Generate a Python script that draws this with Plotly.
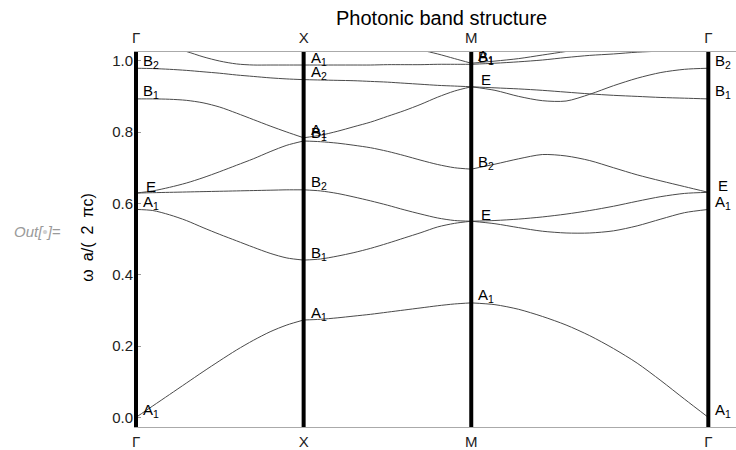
import numpy as np
import plotly.graph_objects as go

# High-symmetry points along the path Γ–X–M–Γ (path length in units of 2π/a)
sym_k = [0.0, 0.5, 1.0, 1.7071]
sym_labels = ["Γ", "X", "M", "Γ"]

# Sampling along each leg: 11 points per leg, shared end points
pts_per_leg = 11

# Band frequencies ωa/(2πc) along Γ→X, X→M, M→Γ (31 samples each)
band1 = [0.000, 0.032, 0.064, 0.096, 0.128, 0.159, 0.189, 0.216, 0.240, 0.259, 0.273,
         0.275, 0.279, 0.284, 0.289, 0.295, 0.301, 0.307, 0.313, 0.318, 0.321,
         0.316, 0.303, 0.283, 0.259, 0.229, 0.193, 0.152, 0.103, 0.051, 0.000]
band2 = [0.583, 0.580, 0.568, 0.552, 0.532, 0.513, 0.495, 0.477, 0.460, 0.447, 0.441,
         0.444, 0.452, 0.462, 0.474, 0.488, 0.503, 0.518, 0.534, 0.544, 0.550,
         0.543, 0.532, 0.522, 0.517, 0.517, 0.523, 0.537, 0.556, 0.574, 0.583]
band3 = [0.629, 0.630, 0.631, 0.632, 0.633, 0.634, 0.635, 0.636, 0.637, 0.638, 0.638,
         0.635, 0.628, 0.618, 0.607, 0.595, 0.582, 0.570, 0.559, 0.552, 0.550,
         0.552, 0.556, 0.562, 0.570, 0.580, 0.592, 0.606, 0.619, 0.628, 0.631]
band4 = [0.629, 0.635, 0.645, 0.657, 0.672, 0.689, 0.707, 0.725, 0.745, 0.763, 0.775,
         0.773, 0.769, 0.763, 0.756, 0.746, 0.734, 0.721, 0.709, 0.700, 0.696,
         0.710, 0.725, 0.737, 0.733, 0.720, 0.700, 0.680, 0.663, 0.647, 0.631]
band5 = [0.893, 0.893, 0.892, 0.889, 0.882, 0.870, 0.853, 0.835, 0.817, 0.800, 0.784,
         0.791, 0.802, 0.815, 0.828, 0.844, 0.860, 0.878, 0.898, 0.915, 0.927,
         0.917, 0.900, 0.888, 0.887, 0.906, 0.930, 0.951, 0.967, 0.976, 0.979]
band6 = [0.979, 0.978, 0.976, 0.973, 0.969, 0.965, 0.960, 0.956, 0.952, 0.949, 0.947,
         0.946, 0.945, 0.944, 0.942, 0.940, 0.937, 0.934, 0.931, 0.929, 0.927,
         0.924, 0.921, 0.917, 0.912, 0.907, 0.903, 0.900, 0.897, 0.895, 0.893]
band7 = [1.050, 1.047, 1.037, 1.026, 1.011, 0.999, 0.991, 0.988, 0.988, 0.988, 0.988,
         0.988, 0.988, 0.988, 0.988, 0.989, 0.989, 0.989, 0.990, 0.990, 0.990,
         0.993, 0.997, 1.002, 1.009, 1.015, 1.019, 1.024, 1.027, 1.030, 1.031]
band8 = [None, None, None, None, None, None, None, None, None, None, 1.069,
         1.068, 1.065, 1.061, 1.055, 1.048, 1.040, 1.030, 1.019, 1.006, 0.993,
         0.999, 1.006, 1.016, 1.026, 1.036, 1.044, 1.051, 1.056, 1.061, 1.062]
bands = [band1, band2, band3, band4, band5, band6, band7, band8]

# Symmetry labels of the modes at the high-symmetry points
label_k = [0.0, 0.0, 0.0, 0.0, 0.0,
           0.5, 0.5, 0.5, 0.5, 0.5, 0.5, 0.5,
           1.0, 1.0, 1.0, 1.0, 1.0, 1.0,
           1.7071, 1.7071, 1.7071, 1.7071, 1.7071]
label_w = [0.000, 0.583, 0.629, 0.893, 0.979,
           0.273, 0.441, 0.638, 0.784, 0.775, 0.947, 0.988,
           0.321, 0.550, 0.696, 0.927, 0.993, 0.990,
           0.000, 0.583, 0.631, 0.893, 0.979]
label_text = ["A<sub>1</sub>", "A<sub>1</sub>", "E", "B<sub>1</sub>", "B<sub>2</sub>",
              "A<sub>1</sub>", "B<sub>1</sub>", "B<sub>2</sub>", "A<sub>1</sub>", "B<sub>1</sub>",
              "A<sub>2</sub>", "A<sub>1</sub>",
              "A<sub>1</sub>", "E", "B<sub>2</sub>", "E", "A<sub>1</sub>", "B<sub>1</sub>",
              "A<sub>1</sub>", "A<sub>1</sub>", "E", "B<sub>1</sub>", "B<sub>2</sub>"]

y_tick_vals = [0.0, 0.2, 0.4, 0.6, 0.8, 1.0]
y_tick_text = ["0.0", "0.2", "0.4", "0.6", "0.8", "1.0"]

FONT = "Liberation Sans"
EN = "\u2002"

# k coordinate of every sample, leg by leg
legs = []
for a, b in zip(sym_k[:-1], sym_k[1:]):
    legs.append(np.linspace(a, b, pts_per_leg))

fig = go.Figure()
for band in bands:
    for i, kk in enumerate(legs):
        seg = band[i * (pts_per_leg - 1): (i + 1) * (pts_per_leg - 1) + 1]
        fig.add_trace(go.Scatter(
            x=kk, y=seg, mode="lines",
            line=dict(color="#4a4a4a", width=1, shape="spline", smoothing=0.8),
            hoverinfo="skip", showlegend=False, connectgaps=False,
        ))

# dummy trace that carries the top axis
fig.add_trace(go.Scatter(x=sym_k, y=[None] * len(sym_k), xaxis="x2",
                         showlegend=False, hoverinfo="skip"))

# thick vertical lines at the high-symmetry points
for k in sym_k:
    fig.add_shape(type="line", xref="x", yref="paper", x0=k, x1=k, y0=0, y1=1,
                  line=dict(color="black", width=4), layer="above")

for k, w, t in zip(label_k, label_w, label_text):
    fig.add_annotation(x=k, y=w, xref="x", yref="y", text=t, showarrow=False,
                       xanchor="center", yanchor="middle", xshift=15, yshift=7,
                       font=dict(family=FONT, size=15, color="black"))

fig.add_annotation(text="Photonic band structure", xref="paper", yref="paper",
                   x=0.51, y=1.09, showarrow=False, xanchor="center", yanchor="middle",
                   font=dict(family=FONT, size=20, color="black"))
fig.add_annotation(text=f"ω{EN}a/({EN}2{EN}πc)", xref="paper", yref="paper",
                   x=-0.0764, y=0.505, showarrow=False, textangle=-90,
                   xanchor="center", yanchor="middle",
                   font=dict(family=FONT, size=16, color="black"))
fig.add_annotation(text="<i>Out[<span style='color:#d0d0d0'>•</span>]=</i>",
                   xref="paper", yref="paper", x=-0.161, y=0.521, showarrow=False,
                   xanchor="center", yanchor="middle",
                   font=dict(family=FONT, size=15, color="#9a9a9a"))

axis_font = dict(family=FONT, size=15, color="#222222")
fig.update_layout(
    width=736, height=450,
    margin=dict(l=134, r=0, t=52, b=20),
    paper_bgcolor="white", plot_bgcolor="white",
    xaxis=dict(range=[-0.00597, 1.7897], tickvals=sym_k, ticktext=sym_labels,
               ticks="outside", ticklen=1, tickcolor="rgba(0,0,0,0)",
               showline=True, linecolor="#aaaaaa", linewidth=1, mirror=True,
               showgrid=False, zeroline=False, tickfont=axis_font),
    xaxis2=dict(range=[-0.00597, 1.7897], overlaying="x", side="top", anchor="y",
                tickvals=sym_k, ticktext=sym_labels,
                ticks="outside", ticklen=2, tickcolor="rgba(0,0,0,0)",
                showline=False, showgrid=False, zeroline=False, tickfont=axis_font),
    yaxis=dict(range=[-0.027, 1.0245], tickvals=y_tick_vals, ticktext=y_tick_text,
               ticks="inside", ticklen=7, tickcolor="#9a9a9a", tickwidth=1,
               minor=dict(tick0=0, dtick=0.05, ticks="inside", ticklen=4,
                          tickcolor="#9a9a9a", tickwidth=1),
               showline=False, showgrid=False, zeroline=False, tickfont=axis_font),
)

fig.write_html("out.html")
